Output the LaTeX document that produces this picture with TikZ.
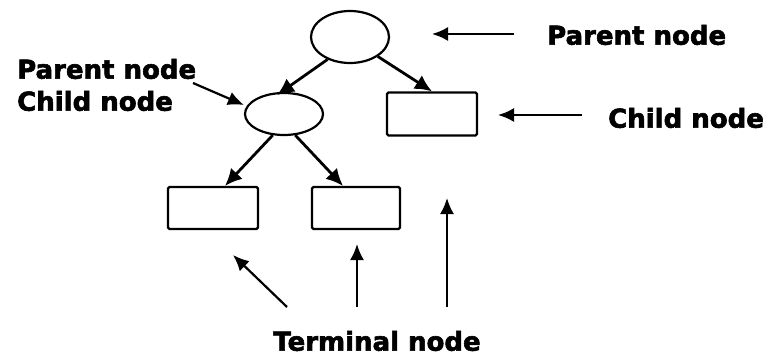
\documentclass[tikz,border=0pt]{standalone}
\usetikzlibrary{arrows.meta,shapes.geometric}
\usepackage{fontspec}
\setmainfont{DejaVu Sans}[BoldFeatures={FakeBold=2.2}]
\begin{document}
\begin{tikzpicture}[x=1pt,y=-1pt,
  shapeline/.style={draw=black,line width=2.2pt},
  oval/.style={shapeline,ellipse,inner sep=0pt},
  box/.style={shapeline,rectangle,inner sep=0pt,rounded corners=1.5pt},
  link/.style={line width=2.8pt,-{Latex[length=17pt,width=16pt]}},
  pointer/.style={line width=2.2pt,-{Latex[length=16pt,width=14pt]}},
  label/.style={font=\fontsize{26}{32}\selectfont\bfseries,inner sep=0pt}]
\useasboundingbox (0,0) rectangle (770,358);

% tree shapes
\node[oval,minimum width=78pt,minimum height=52pt] (root) at (350,37) {};
\node[oval,minimum width=78pt,minimum height=42pt] (mid) at (284,114) {};
\node[box,minimum width=90pt,minimum height=43pt] (rchild) at (432,114) {};
\node[box,minimum width=90pt,minimum height=42pt] (leafA) at (213,208) {};
\node[box,minimum width=88pt,minimum height=42pt] (leafB) at (356,208) {};

% tree edges
\draw[link] (root.225) -- (277,95);
\draw[link] (root.-35) -- (rchild.north);
\draw[link] (mid.242) -- (leafA.north -| 225,0);
\draw[link] (mid.-62) -- (leafB.north -| 343,0);

% labels
\node[label,anchor=west] (lblParent) at (547,35) {Parent node};
\node[label,anchor=west,align=left] (lblBoth) at (17,85) {Parent node\\Child node};
\node[label,anchor=west] (lblChild) at (608,118) {Child node};
\node[label] (lblTerm) at (377,341) {Terminal node};

% label pointers
\coordinate (pA) at (514,34);
\coordinate (pB) at (582,115);
\coordinate (pC) at (193,83);
\coordinate (pD) at (287,307);
\coordinate (pE) at (357,307);
\coordinate (pF) at (447,307);
\draw[pointer] (pA) -- (432,34);
\draw[pointer] (pB) -- (498,115);
\draw[pointer] (pC) -- (mid.west |- 0,105);
\draw[pointer] (pD) -- (233,255);
\draw[pointer] (pE) -- (357,244);
\draw[pointer] (pF) -- (447,198);
\end{tikzpicture}
\end{document}
